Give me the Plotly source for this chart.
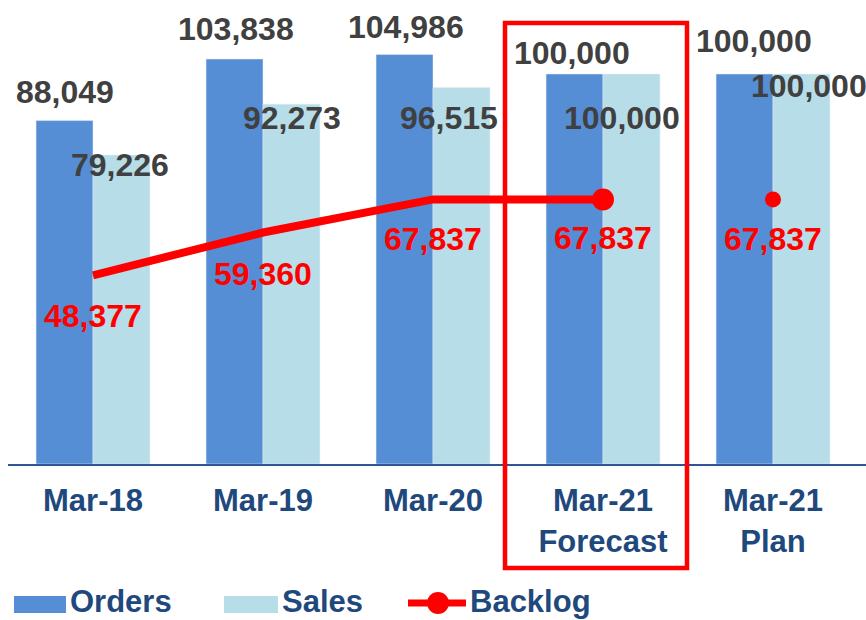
import plotly.graph_objects as go

categories = ["Mar-18", "Mar-19", "Mar-20", "Mar-21<br>Forecast", "Mar-21<br>Plan"]
orders = [88049, 103838, 104986, 100000, 100000]
sales = [79226, 92273, 96515, 100000, 100000]
backlog = [48377, 59360, 67837, 67837, 67837]

# label pixel offsets (style only): (xshift, yshift)
orders_off = [(-28, 29), (-27, 30), (-27, 28), (-31, 21), (-19, 33)]
sales_off = [(27, -10), (29, -14), (16, -30), (19, -44), (36, -12)]
backlog_off = [(0, -41), (0, -41), (0, -40), (0, -39), (0, -40)]

C_ORD = "#558ED5"
C_SAL = "#B7DDE8"
C_RED = "#FF0000"
C_NAVY = "#1F497D"
C_GRAY = "#404040"
FONT = "Arial, Liberation Sans, sans-serif"

W, H = 866, 620
L, T, B, R = 8, 20, 156, 0
PW, PH = W - L - R, H - T - B


def px(x):  # screen x -> paper
    return (x - L) / PW


def py(y):  # screen y -> paper
    return (H - B - y) / PH


fig = go.Figure()
fig.add_trace(go.Bar(x=categories, y=orders, name="Orders", marker_color=C_ORD, showlegend=False))
fig.add_trace(go.Bar(x=categories, y=sales, name="Sales", marker_color=C_SAL, showlegend=False))
fig.add_trace(go.Scatter(x=categories[:4], y=backlog[:4], mode="lines", name="Backlog",
                         line=dict(color=C_RED, width=8), showlegend=False))
fig.add_trace(go.Scatter(x=categories[3:], y=backlog[3:], mode="markers", showlegend=False,
                         marker=dict(color=C_RED, size=[22, 16], opacity=1,
                                     line=dict(width=0))))

ann = []
for i, c in enumerate(categories):
    for vals, off, col in ((orders, orders_off, C_GRAY), (sales, sales_off, C_GRAY),
                           (backlog, backlog_off, C_RED)):
        ann.append(dict(x=c, y=vals[i], xref="x", yref="y", text=f"<b>{vals[i]:,}</b>",
                        showarrow=False, xshift=off[i][0], yshift=off[i][1],
                        xanchor="center", yanchor="middle",
                        font=dict(family=FONT, size=32, color=col)))

# custom legend
leg_items = [("Orders", C_ORD, 14, 66), ("Sales", C_SAL, 224, 278), ("Backlog", None, 408, 466)]
shapes = []
for name, col, x0, x1 in leg_items:
    if col:
        shapes.append(dict(type="rect", xref="paper", yref="paper", x0=px(x0), x1=px(x1),
                           y0=py(613), y1=py(596), fillcolor=col, line=dict(width=0)))
    else:
        shapes.append(dict(type="line", xref="paper", yref="paper", x0=px(x0), x1=px(x1),
                           y0=py(603), y1=py(603), line=dict(color=C_RED, width=7)))
        shapes.append(dict(type="circle", xref="paper", yref="paper", x0=px(427), x1=px(449),
                           y0=py(614), y1=py(592), fillcolor=C_RED, line=dict(width=0)))
    ann.append(dict(x=px(x1 + 3), y=py(601), xref="paper", yref="paper", text=f"<b>{name}</b>",
                    showarrow=False, xanchor="left", yanchor="middle", borderpad=0,
                    font=dict(family=FONT, size=31, color=C_NAVY)))

# highlight box around forecast
shapes.append(dict(type="rect", xref="paper", yref="paper", x0=px(505), x1=px(687),
                   y0=py(568), y1=py(23), line=dict(color=C_RED, width=4.5),
                   fillcolor="rgba(0,0,0,0)"))

fig.update_layout(
    width=W, height=H,
    margin=dict(l=L, r=R, t=T, b=B),
    paper_bgcolor="white", plot_bgcolor="white",
    barmode="group", bargap=0.33, bargroupgap=0,
    annotations=ann, shapes=shapes,
    xaxis=dict(range=[-0.5, 4.547], showgrid=False, zeroline=False,
               showline=True, linecolor="#2F5597", linewidth=2, ticks="",
               ticklabelstandoff=8,
               tickfont=dict(family=FONT, size=31, color=C_NAVY, weight="bold")),
    yaxis=dict(range=[0, 113846], visible=False),
    showlegend=False,
)

fig.write_html("out.html", config={"displayModeBar": False},
               post_script="document.body.style.margin='0';document.body.style.overflow='hidden';")
